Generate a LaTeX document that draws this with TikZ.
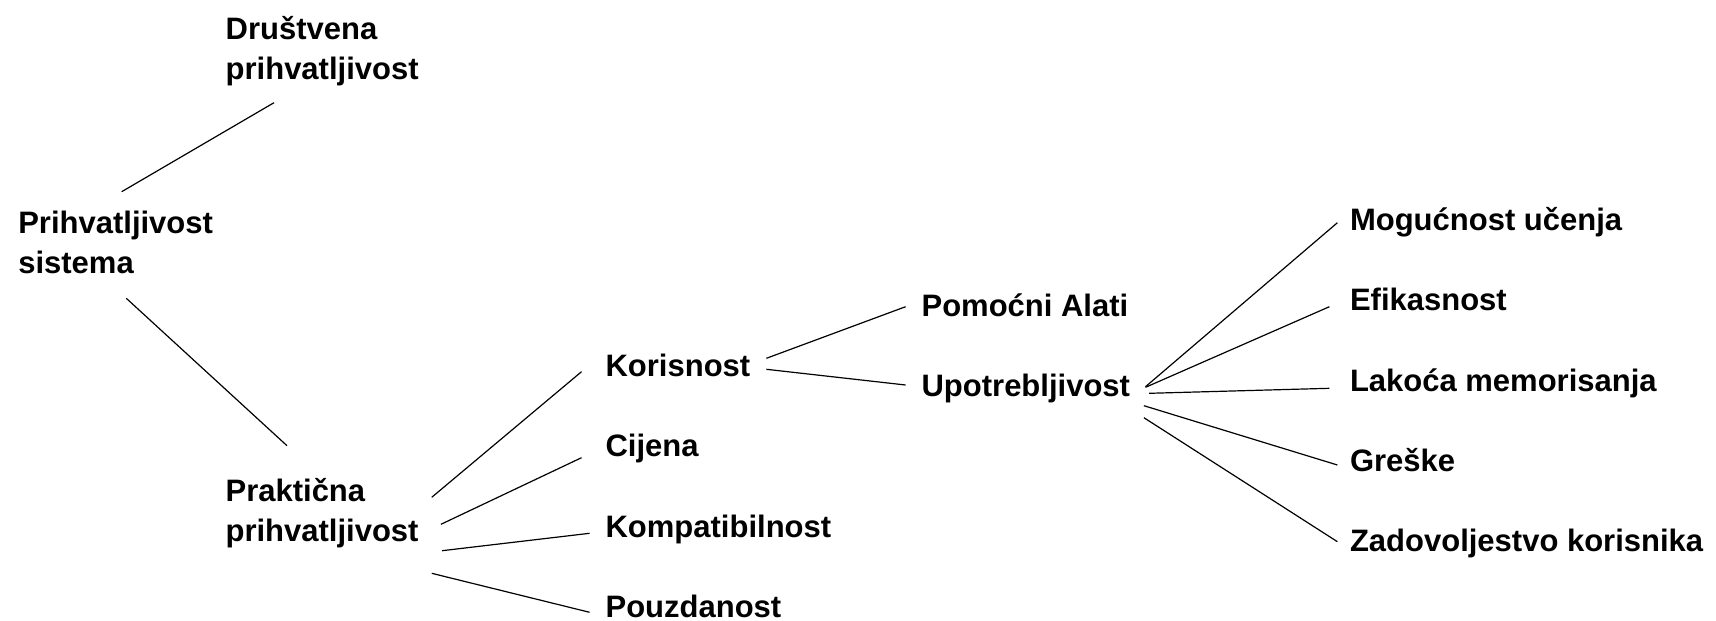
\documentclass[tikz,border=0pt]{standalone}
\usepackage{fontspec}
\setmainfont{Liberation Sans}
\usepackage{tikz}
\usetikzlibrary{calc}
\tikzset{
  t/.style={anchor=base west,inner sep=0pt,outer sep=0pt,align=left,
    font=\fontsize{31}{40}\selectfont\bfseries},
  every picture/.style={line width=1.2pt},
}
\begin{document}
\begin{tikzpicture}[x=1pt,y=-1pt]
\useasboundingbox (0,0) rectangle (1716,621);
% lijeva strana
\node[t] (drus) at (225.7,79) {Društvena\\prihvatljivost};
\node[t] (sis) at (18.3,273) {Prihvatljivost\\sistema};
\node[t] (prak) at (225.6,541.7) {Praktična\\prihvatljivost};
\node[t] (kor) at (605.6,376) {Korisnost}; \node[t] (cij) at (605.6,456.7) {Cijena};
\node[t] (komp) at (605.6,537.3) {Kompatibilnost}; \node[t] (pouz) at (605.6,617) {Pouzdanost};
% desna strana
\node[t] (pom) at (921.6,316) {Pomoćni Alati}; \node[t] (upo) at (921.6,396.7) {Upotrebljivost};
\node[t] (mog) at (1350,230) {Mogućnost učenja}; \node[t] (efi) at (1350,310) {Efikasnost};
\node[t] (lak) at (1350,391.7) {Lakoća memorisanja}; \node[t] (gre) at (1350,471.7) {Greške};
\node[t] (zad) at (1350,551.7) {Zadovoljestvo korisnika};
\draw ([shift={(103.4,-81.3)}]sis.base west) -- ([shift={(48.3,23.7)}]drus.base west);
\draw ([shift={(108,25.3)}]sis.base west) -- ([shift={(61.4,-96)}]prak.base west);
\draw ([shift={(13.2,-44.4)}]prak.base east) -- ([shift={(-24.1,-4.3)}]kor.base west);
\draw ([shift={(22.4,-17.4)}]prak.base east) -- ([shift={(-24.1,1)}]cij.base west);
\draw ([shift={(23.5,9)}]prak.base east) -- ([shift={(-16,-4)}]komp.base west);
\draw ([shift={(13.2,31.6)}]prak.base east) -- ([shift={(-16,-4.7)}]pouz.base west);
\draw ([shift={(16.1,-17.7)}]kor.base east) -- ([shift={(-16,-9.3)}]pom.base west);
\draw ([shift={(16.1,-6.7)}]kor.base east) -- ([shift={(-16,-11.7)}]upo.base west);
\draw ([shift={(15.5,-10)}]upo.base east) -- ([shift={(-12.6,-7.3)}]mog.base west);
\draw ([shift={(15.5,-9.4)}]upo.base east) -- ([shift={(-20.6,-3.3)}]efi.base west);
\draw ([shift={(19.2,-3.4)}]upo.base east) -- ([shift={(-20.6,-3.4)}]lak.base west);
\draw ([shift={(13.9,9)}]upo.base east) -- ([shift={(-12.6,-6.7)}]gre.base west);
\draw ([shift={(13.9,21)}]upo.base east) -- ([shift={(-12.6,-10)}]zad.base west);
\end{tikzpicture}
\end{document}
